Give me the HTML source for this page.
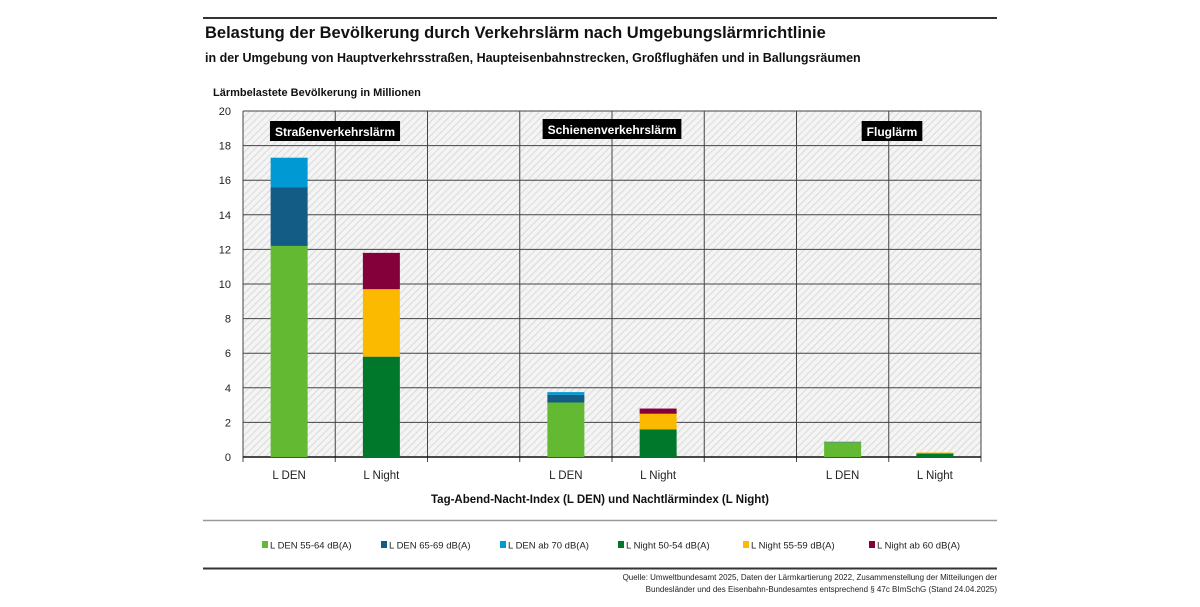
<!DOCTYPE html>
<html><head><meta charset="utf-8"><style>
body{margin:0;width:1200px;height:602px;background:#fff;font-family:"Liberation Sans",sans-serif;overflow:hidden}
svg text{font-family:"Liberation Sans",sans-serif}
</style></head><body>
<svg id="c" width="1200" height="602">
<defs>
<pattern id="hatch" width="5" height="5" patternUnits="userSpaceOnUse" patternTransform="rotate(45)">
<rect width="5" height="5" fill="#f4f4f4"/><line x1="0" y1="0" x2="0" y2="5" stroke="#cfcfcf" stroke-width="1.4"/>
</pattern>
</defs>
<line x1="203" y1="18" x2="997" y2="18" stroke="#333" stroke-width="2"/>
<text x="205" y="38" font-size="16.5" font-weight="bold" fill="#111">Belastung der Bevölkerung durch Verkehrslärm nach Umgebungslärmrichtlinie</text>
<text x="205" y="62" font-size="12.5" font-weight="bold" fill="#111">in der Umgebung von Hauptverkehrsstraßen, Haupteisenbahnstrecken, Großflughäfen und in Ballungsräumen</text>
<text x="213" y="96" font-size="11" font-weight="bold" fill="#111">Lärmbelastete Bevölkerung in Millionen</text>
<g id="plot"></g>
<text x="600" y="503" text-anchor="middle" font-size="11.5" font-weight="bold" fill="#111">Tag-Abend-Nacht-Index (L DEN) und Nachtlärmindex (L Night)</text>
<line x1="203" y1="520.5" x2="997" y2="520.5" stroke="#999" stroke-width="1.5"/>
<g id="legend"></g>
<line x1="203" y1="568.5" x2="997" y2="568.5" stroke="#333" stroke-width="2"/>
<text x="997" y="580" text-anchor="end" font-size="8" fill="#222">Quelle: Umweltbundesamt 2025, Daten der Lärmkartierung 2022, Zusammenstellung der Mitteilungen der</text>
<text x="997" y="592" text-anchor="end" font-size="8" fill="#222">Bundesländer und des Eisenbahn-Bundesamtes entsprechend § 47c BImSchG (Stand 24.04.2025)</text>
</svg>
<script>
const categories=["L DEN","L Night","","L DEN","L Night","","L DEN","L Night"];
const seriesNames=["L DEN 55-64 dB(A)","L DEN 65-69 dB(A)","L DEN ab 70 dB(A)","L Night 50-54 dB(A)","L Night 55-59 dB(A)","L Night ab 60 dB(A)"];
const seriesColors=["#63b931","#135c85","#0099d4","#00782b","#fbba00","#84003b"];
const denValues=[[12.2,3.4,1.7],[3.15,0.45,0.15],[0.85,0.03,0]];
const nightValues=[[5.8,3.9,2.1],[1.6,0.9,0.3],[0.2,0.06,0]];
const yTicks=[0,2,4,6,8,10,12,14,16,18,20];
const groupLabels=["Straßenverkehrslärm","Schienenverkehrslärm","Fluglärm"];
const NS="http://www.w3.org/2000/svg";
const X0=243,X1=981,Y0=457,Y1=111,colW=(X1-X0)/8;
const y=v=>Y0-(v/20)*(Y0-Y1);
const xc=i=>X0+colW*(i+0.5);
const g=document.getElementById('plot');
function mk(t,a,p){const e=document.createElementNS(NS,t);for(const k in a)e.setAttribute(k,a[k]);(p||g).appendChild(e);return e;}
let bg=mk('rect',{x:X0,y:Y1,width:X1-X0,height:Y0-Y1,fill:'url(#hatch)'});


yTicks.forEach(t=>{
 let l=mk('line',{x1:X0,x2:X1,y1:y(t),y2:y(t),stroke:'#444','stroke-width':1});
 
 
 let tx=mk('text',{x:X0-12,y:y(t)+4,'text-anchor':'end','font-size':11,fill:'#222'});tx.textContent=t;
 
 
});
for(let i=0;i<=8;i++){
 let l=mk('line',{x1:X0+colW*i,x2:X0+colW*i,y1:Y1,y2:Y0+5,stroke:'#444','stroke-width':1});
 
 
}
mk('line',{x1:X0,x2:X1,y1:Y0,y2:Y0,stroke:'#111','stroke-width':1.5});
categories.forEach((c,i)=>{if(!c)return;
 let tx=mk('text',{x:xc(i),y:Y0+22,'text-anchor':'middle','font-size':11.5,fill:'#222'});tx.textContent=c;
 
 
});
const bw=37;
[0,1,2].forEach(gi=>{
 [[denValues[gi],0],[nightValues[gi],3]].forEach(([vals,off],k)=>{
  let base=0,col=gi*3+k;
  vals.forEach((v,si)=>{
   if(v<=0)return;
   let r=mk('rect',{x:xc(col)-bw/2,y:y(base+v),width:bw,height:y(base)-y(base+v),fill:seriesColors[off+si]});
   
   
   base+=v;
  });
 });
});
const lblPos=[[335,131],[612,129],[892,131]];
groupLabels.forEach((t,i)=>{
 let tx=mk('text',{x:lblPos[i][0],y:lblPos[i][1]+5,'text-anchor':'middle','font-size':12,'font-weight':'bold',fill:'#fff'});
 tx.textContent=t;
 let b=tx.getBBox();
 let r=mk('rect',{x:b.x-5,y:lblPos[i][1]-10,width:b.width+10,height:20,fill:'#000'});
 g.insertBefore(r,tx);
 
 
 
 
});
const lg=document.getElementById('legend');
const lx=[262,381,500,618,743,869];
seriesNames.forEach((n,i)=>{
 let r=mk('rect',{x:lx[i],y:541,width:6,height:7,fill:seriesColors[i]},lg);
 
 
 let tx=mk('text',{x:lx[i]+8,y:548.5,'font-size':9.5,fill:'#222'},lg);tx.textContent=n;
 
 
});
</script>
</body></html>
